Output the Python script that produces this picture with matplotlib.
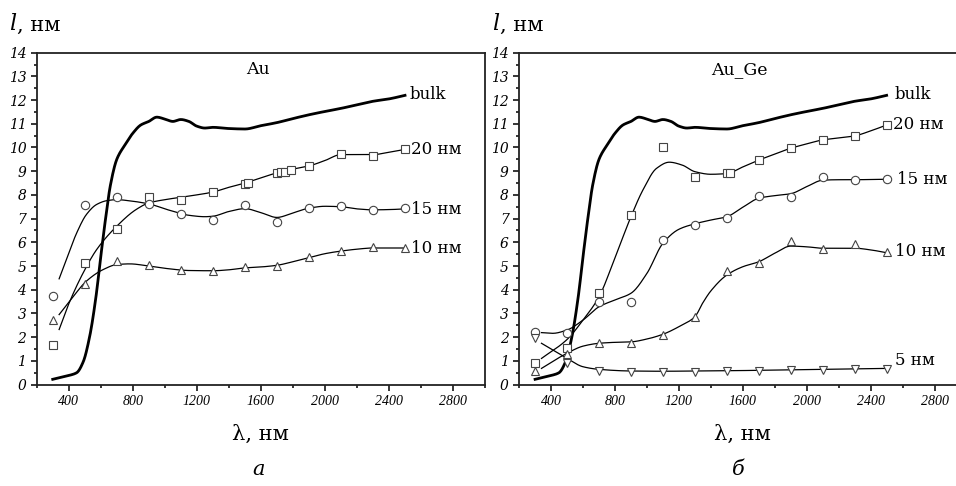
"""Electron mean free path vs wavelength for Au and Au_Ge films."""

import matplotlib

matplotlib.use("Agg")
import matplotlib.pyplot as plt
import numpy as np
from matplotlib.ticker import MultipleLocator

SERIF = ["DejaVu Serif"]

# measured points, same wavelength grid for all films
WL = [300, 500, 700, 900, 1100, 1300, 1500, 1700, 1900, 2100, 2300, 2500]

# bulk curve (same in both panels)
bulk_wl = [300, 400, 450, 490, 530, 570, 600, 630, 660, 700, 750, 800, 850, 900, 950, 1000,
           1050, 1100, 1150, 1200, 1250, 1300, 1400, 1500, 1600, 1700, 1800, 1900, 2000,
           2100, 2200, 2300, 2400, 2500]
bulk_l = [0.22, 0.38, 0.5, 0.95, 2.0, 3.7, 5.4, 7.0, 8.4, 9.5, 10.1, 10.6, 10.95, 11.1, 11.28,
          11.2, 11.1, 11.18, 11.1, 10.9, 10.82, 10.85, 10.8, 10.78, 10.92, 11.05, 11.22, 11.38,
          11.52, 11.65, 11.8, 11.95, 12.05, 12.2]

# --- Au ---
au20_wl = WL[:6] + [1500, 1520, 1700, 1725, 1750, 1785, 1900, 2100, 2300, 2500]
au20_l = [1.66, 5.13, 6.57, 7.92, 7.78, 8.11, 8.45, 8.5, 8.92, 8.96, 8.95, 9.06, 9.21, 9.73, 9.66, 9.92]
au15_l = [3.75, 7.57, 7.9, 7.6, 7.2, 6.96, 7.57, 6.85, 7.45, 7.52, 7.36, 7.43]
au10_l = [2.74, 4.25, 5.23, 5.06, 4.85, 4.81, 4.96, 5.02, 5.37, 5.65, 5.79, 5.76]

au20_fit_wl = [340, 400, 490, 575, 700, 820, 900, 1030, 1150, 1300, 1400, 1500, 1600, 1700,
               1780, 1900, 2000, 2100, 2200, 2300, 2400, 2500]
au20_fit_l = [2.32, 3.4, 4.71, 5.7, 6.68, 7.38, 7.66, 7.83, 7.95, 8.12, 8.32, 8.5, 8.72, 8.93,
              9.06, 9.22, 9.45, 9.7, 9.7, 9.7, 9.8, 9.92]
au15_fit_wl = [340, 385, 450, 510, 575, 640, 700, 780, 900, 1030, 1150, 1250, 1300, 1400, 1500,
               1600, 1700, 1800, 1900, 2000, 2100, 2200, 2300, 2400, 2500]
au15_fit_l = [4.46, 5.27, 6.4, 7.17, 7.6, 7.76, 7.8, 7.75, 7.62, 7.35, 7.14, 7.08, 7.1, 7.3, 7.42,
              7.25, 7.05, 7.24, 7.44, 7.52, 7.5, 7.41, 7.37, 7.38, 7.41]
au10_fit_wl = [340, 430, 510, 615, 700, 780, 900, 1030, 1150, 1300, 1400, 1500, 1600, 1700,
               1800, 1900, 2000, 2100, 2200, 2300, 2400, 2500]
au10_fit_l = [2.95, 3.73, 4.36, 4.85, 5.06, 5.09, 5.0, 4.88, 4.81, 4.8, 4.84, 4.92, 4.96, 5.03,
              5.18, 5.35, 5.52, 5.63, 5.71, 5.76, 5.76, 5.76]

# --- Au_Ge ---
ge20_wl = WL[:7] + [1520] + WL[7:]
ge20_l = [0.92, 1.53, 3.85, 7.15, 10.01, 8.77, 8.91, 8.91, 9.47, 9.97, 10.32, 10.49, 10.95]
ge15_l = [2.2, 2.19, 3.49, 3.49, 6.1, 6.73, 7.01, 7.97, 7.9, 8.77, 8.63, 8.66]
ge10_l = [0.58, 1.3, 1.76, 1.76, 2.09, 2.86, 4.79, 5.14, 6.07, 5.7, 5.91, 5.6]
ge5_l = [1.95, 0.92, 0.58, 0.51, 0.51, 0.54, 0.57, 0.58, 0.61, 0.61, 0.64, 0.64]

ge20_fit_wl = [340, 500, 600, 700, 800, 900, 975, 1060, 1140, 1220, 1300, 1400, 1500, 1600,
               1700, 1800, 1900, 2000, 2100, 2200, 2300, 2400, 2500]
ge20_fit_l = [1.1, 1.9, 2.72, 3.7, 5.35, 7.08, 8.21, 9.12, 9.38, 9.26, 8.98, 8.87, 8.9, 9.18,
              9.47, 9.72, 9.97, 10.15, 10.32, 10.4, 10.49, 10.7, 10.95]
ge15_fit_wl = [340, 410, 500, 600, 700, 800, 900, 1000, 1100, 1200, 1300, 1400, 1500, 1600,
               1700, 1800, 1900, 2000, 2100, 2200, 2300, 2400, 2500]
ge15_fit_l = [2.19, 2.16, 2.3, 2.72, 3.28, 3.57, 3.85, 4.69, 5.96, 6.55, 6.78, 6.94, 7.08, 7.48,
              7.86, 7.97, 8.05, 8.35, 8.62, 8.64, 8.64, 8.65, 8.66]
ge10_fit_wl = [340, 500, 600, 700, 800, 900, 1000, 1100, 1200, 1300, 1350, 1400, 1500, 1600,
               1700, 1800, 1900, 2000, 2100, 2200, 2300, 2400, 2500]
ge10_fit_l = [0.68, 1.32, 1.62, 1.74, 1.78, 1.8, 1.92, 2.12, 2.44, 2.86, 3.45, 3.95, 4.62, 4.97,
              5.18, 5.54, 5.84, 5.81, 5.75, 5.75, 5.75, 5.68, 5.56]
ge5_fit_wl = [340, 410, 500, 600, 700, 900, 1100, 1300, 1500, 1700, 1900, 2100, 2300, 2500]
ge5_fit_l = [1.74, 1.46, 1.1, 0.75, 0.64, 0.57, 0.56, 0.57, 0.58, 0.6, 0.62, 0.64, 0.66, 0.68]


def pchip(x, y, n=400):
    x = np.asarray(x, float)
    y = np.asarray(y, float)
    h = np.diff(x)
    d = np.diff(y) / h
    m = np.zeros_like(y)
    m[0], m[-1] = d[0], d[-1]
    for k in range(1, len(x) - 1):
        if d[k - 1] * d[k] > 0:
            w1 = 2 * h[k] + h[k - 1]
            w2 = h[k] + 2 * h[k - 1]
            m[k] = (w1 + w2) / (w1 / d[k - 1] + w2 / d[k])
    xs = np.linspace(x[0], x[-1], n)
    i = np.clip(np.searchsorted(x, xs) - 1, 0, len(h) - 1)
    t = (xs - x[i]) / h[i]
    ys = ((2 * t**3 - 3 * t**2 + 1) * y[i] + (t**3 - 2 * t**2 + t) * h[i] * m[i]
          + (-2 * t**3 + 3 * t**2) * y[i + 1] + (t**3 - t**2) * h[i] * m[i + 1])
    return xs, ys


def setup_axes(ax):
    ax.set_xlim(200, 3000)
    ax.set_ylim(0, 14)
    ax.xaxis.set_major_locator(MultipleLocator(400))
    ax.xaxis.set_minor_locator(MultipleLocator(200))
    ax.yaxis.set_major_locator(MultipleLocator(1))
    ax.yaxis.set_minor_locator(MultipleLocator(0.5))
    ax.set_xticks([400, 800, 1200, 1600, 2000, 2400, 2800])
    ax.tick_params(which="both", direction="out", top=False, right=False, width=1.1)
    ax.tick_params(which="major", length=4)
    ax.tick_params(which="minor", length=2.5)
    for lab in ax.get_xticklabels():
        lab.set_fontfamily("Liberation Serif")
        lab.set_fontstyle("italic")
        lab.set_fontsize(10)
    for lab in ax.get_yticklabels():
        lab.set_fontfamily("DejaVu Serif")
        lab.set_fontstyle("italic")
        lab.set_fontsize(10)
    for sp in ax.spines.values():
        sp.set_linewidth(1.3)
        sp.set_color("#222222")
    ax.set_xlabel("λ, нм", fontsize=15, family=SERIF, labelpad=12)


def draw_fit(ax, wl, vals):
    xs, ys = pchip(wl, vals)
    ax.plot(xs, ys, color="black", lw=0.9)


def draw_points(ax, wl, vals, marker):
    ax.plot(wl, vals, ls="none", marker=marker, ms=6, mfc="white", mec="#444444", mew=0.8, zorder=3)


def draw_bulk(ax):
    xs, ys = pchip(bulk_wl, bulk_l, 600)
    ax.plot(xs, ys, color="black", lw=2.0, zorder=2)


def curve_label(ax, x, y, text):
    ax.text(x, y, text, fontsize=12, family=SERIF, va="center", ha="left")


fig = plt.figure(figsize=(9.56, 4.86), dpi=100)
ax_a = fig.add_axes([0.0384, 0.2088, 0.469, 0.6828])
ax_b = fig.add_axes([0.543, 0.2088, 0.468, 0.6828])

# panel a
draw_bulk(ax_a)
draw_fit(ax_a, au20_fit_wl, au20_fit_l)
draw_fit(ax_a, au15_fit_wl, au15_fit_l)
draw_fit(ax_a, au10_fit_wl, au10_fit_l)
draw_points(ax_a, au20_wl, au20_l, "s")
draw_points(ax_a, WL, au15_l, "o")
draw_points(ax_a, WL, au10_l, "^")
ax_a.text(1580, 13.3, "Au", fontsize=12.5, family=SERIF, ha="center", va="center")
curve_label(ax_a, 2530, 12.25, "bulk")
curve_label(ax_a, 2540, 9.9, "20 нм")
curve_label(ax_a, 2540, 7.4, "15 нм")
curve_label(ax_a, 2540, 5.75, "10 нм")
setup_axes(ax_a)

# panel b
draw_bulk(ax_b)
draw_fit(ax_b, ge20_fit_wl, ge20_fit_l)
draw_fit(ax_b, ge15_fit_wl, ge15_fit_l)
draw_fit(ax_b, ge10_fit_wl, ge10_fit_l)
draw_fit(ax_b, ge5_fit_wl, ge5_fit_l)
draw_points(ax_b, ge20_wl, ge20_l, "s")
draw_points(ax_b, WL, ge15_l, "o")
draw_points(ax_b, WL, ge10_l, "^")
draw_points(ax_b, WL, ge5_l, "v")
ax_b.text(1580, 13.3, "Au_Ge", fontsize=12.5, family=SERIF, ha="center", va="center")
curve_label(ax_b, 2550, 12.25, "bulk")
curve_label(ax_b, 2540, 10.95, "20 нм")
curve_label(ax_b, 2565, 8.66, "15 нм")
curve_label(ax_b, 2550, 5.6, "10 нм")
curve_label(ax_b, 2555, 1.0, "5 нм")
setup_axes(ax_b)

# y labels and panel letters
for x0 in (0.01, 0.515):
    fig.text(x0, 0.95, "l", fontsize=16, family=SERIF, style="italic", va="center", ha="left")
    fig.text(x0 + 0.008, 0.947, ", нм", fontsize=15, family=SERIF, va="center", ha="left")
fig.text(0.27, 0.033, "а", fontsize=15, family=SERIF, style="italic", ha="center", va="center")
fig.text(0.772, 0.033, "б", fontsize=15, family=SERIF, style="italic", ha="center", va="center")

fig.savefig("out.png", dpi=100)
